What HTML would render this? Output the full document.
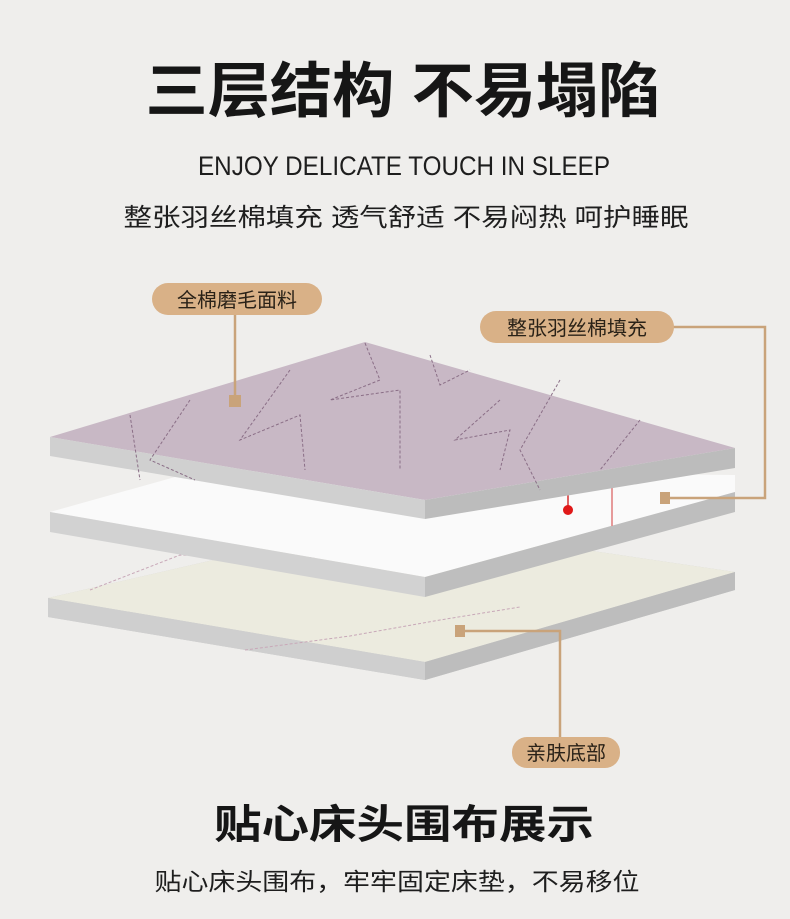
<!DOCTYPE html>
<html><head><meta charset="utf-8"><style>
html,body{margin:0;padding:0;background:#efeeec;}
svg{display:block;}
.cjk{font-family:"Liberation Sans","Noto Sans CJK SC",sans-serif;}
</style></head><body>
<svg width="790" height="919" viewBox="0 0 790 919" xmlns="http://www.w3.org/2000/svg" class="cjk">
<rect width="790" height="919" fill="#efeeec"/>
<text x="403" y="112" text-anchor="middle" font-size="60" font-weight="bold" fill="#161616" textLength="515" lengthAdjust="spacingAndGlyphs">三层结构 不易塌陷</text>
<text x="404" y="175" text-anchor="middle" font-size="27" fill="#1e1e1e" textLength="412" lengthAdjust="spacingAndGlyphs" font-family="Liberation Sans,sans-serif">ENJOY DELICATE TOUCH IN SLEEP</text>
<text x="406" y="226" text-anchor="middle" font-size="25" fill="#1e1e1e" textLength="565" lengthAdjust="spacingAndGlyphs">整张羽丝棉填充 透气舒适 不易闷热 呵护睡眠</text>

<!-- bottom layer -->
<polygon points="48,598 300,540 450,530 735,572 735,590 425,680 48,617" fill="#c9c9c9"/>
<polygon points="48,598 300,540 450,530 735,572 425,662" fill="#ecebdf"/>
<polygon points="48,598 425,662 425,680 48,617" fill="#cfcfcf"/>
<polygon points="425,662 735,572 735,590 425,680" fill="#bdbdbd"/>
<polyline points="90,590 180,555 290,560 420,545" fill="none" stroke="#c8a8b8" stroke-dasharray="3,2"/>
<polyline points="245,650 350,636 440,620 520,607" fill="none" stroke="#c8a8b8" stroke-dasharray="3,2"/>

<!-- middle layer -->
<polygon points="50,512 200,470 735,475 735,492 425,577" fill="#fafafa"/>
<polygon points="50,512 425,577 425,597 50,532" fill="#d2d2d2"/>
<polygon points="425,577 735,492 735,512 425,597" fill="#bebebe"/>
<line x1="612" y1="470" x2="612" y2="526" stroke="#e07a7a" stroke-width="1.5"/>
<line x1="568" y1="482" x2="568" y2="508" stroke="#d63030" stroke-width="1.5"/>
<circle cx="568" cy="510" r="5" fill="#e01818"/>

<!-- top layer -->
<polygon points="50,437 365,342 735,448 425,500" fill="#c8b8c5"/>
<polygon points="50,437 425,500 425,519 50,456" fill="#d0d0d0"/>
<polygon points="425,500 735,448 735,468 425,519" fill="#bcbcbc"/>
<g fill="none" stroke="#8a6e86" stroke-width="1" stroke-dasharray="3,2">
<polyline points="130,415 140,480"/>
<polyline points="190,400 150,460 195,480"/>
<polyline points="290,370 240,440 300,415 305,470"/>
<polyline points="365,343 380,380 330,400 400,390 400,470"/>
<polyline points="430,355 440,385 470,370"/>
<polyline points="500,400 455,440 510,430 500,470"/>
<polyline points="560,380 520,450 540,490"/>
<polyline points="640,420 600,470"/>
</g>

<!-- callouts -->
<g fill="none" stroke="#c9a37a" stroke-width="2.5">
<polyline points="235,315 235,402"/>
<polyline points="673,327 765,327 765,498 665,498"/>
<polyline points="560,737 560,631 460,631"/>
</g>
<rect x="229" y="395" width="12" height="12" fill="#c9a37a"/>
<rect x="660" y="492" width="10" height="12" fill="#c9a37a"/>
<rect x="455" y="625" width="10" height="12" fill="#c9a37a"/>

<rect x="152" y="283" width="170" height="32" rx="16" fill="#d9b187"/>
<text x="237" y="307" text-anchor="middle" font-size="20" fill="#2a2218">全棉磨毛面料</text>
<rect x="480" y="311" width="194" height="32" rx="16" fill="#d9b187"/>
<text x="577" y="335" text-anchor="middle" font-size="20" fill="#2a2218">整张羽丝棉填充</text>
<rect x="512" y="737" width="108" height="31" rx="15" fill="#d9b187"/>
<text x="566" y="760" text-anchor="middle" font-size="20" fill="#2a2218">亲肤底部</text>

<text x="404" y="838" text-anchor="middle" font-size="40" font-weight="bold" fill="#161616" textLength="380" lengthAdjust="spacingAndGlyphs">贴心床头围布展示</text>
<text x="397" y="890" text-anchor="middle" font-size="24" fill="#1e1e1e" textLength="485" lengthAdjust="spacingAndGlyphs">贴心床头围布，牢牢固定床垫，不易移位</text>
</svg>
</body></html>
